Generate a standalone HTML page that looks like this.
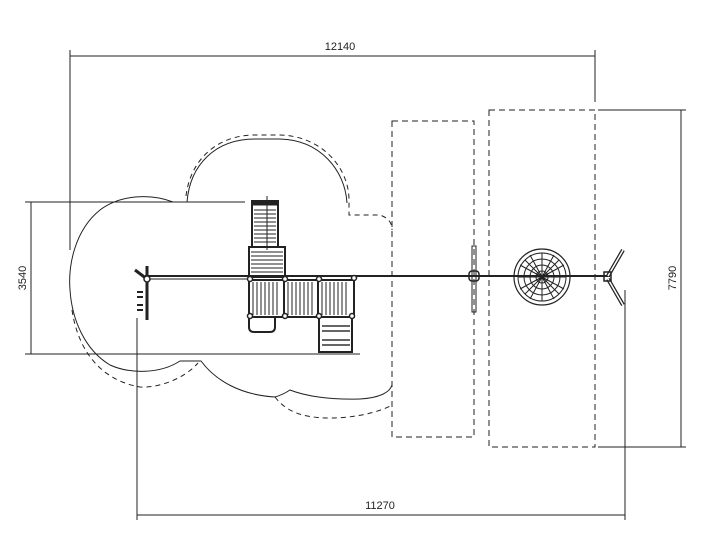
<!DOCTYPE html>
<html><head><style>body{margin:0;background:#fff}svg{display:block}</style></head><body>
<svg width="712" height="548" viewBox="0 0 712 548" xmlns="http://www.w3.org/2000/svg" font-family="Liberation Sans, sans-serif">
<g stroke="#222" stroke-width="1" fill="none">
<!-- dimensions -->
<line x1="70" y1="50" x2="70" y2="250"/><line x1="595" y1="50" x2="595" y2="102"/>
<line x1="70" y1="56" x2="595" y2="56"/>
<line x1="598" y1="110" x2="686" y2="110"/><line x1="598" y1="447" x2="686" y2="447"/>
<line x1="681" y1="110" x2="681" y2="447"/>
<line x1="25" y1="202" x2="245" y2="202"/><line x1="25" y1="354" x2="360" y2="354"/>
<line x1="31" y1="202" x2="31" y2="354"/>
<line x1="137" y1="318" x2="137" y2="520"/><line x1="625" y1="290" x2="625" y2="520"/>
<line x1="137" y1="515" x2="625" y2="515"/>
<!-- dashed rects -->
<rect x="392" y="121" width="82" height="316" stroke-dasharray="6,4"/>
<rect x="489" y="110" width="106" height="337" stroke-dasharray="6,4"/>
<!-- solid safety outline -->
<path d="M187,202 L173,202 C150,193 120,195 100,210 C75,230 68,265 70,290 C72,320 85,350 110,365 C130,374 160,374 180,361 L201,361 C215,380 240,395 275,397 C282,395 287,392 290,390 C305,396 330,400 360,399 C380,398 390,392 392,385"/>
<path d="M187,202 C190,165 215,139 255,139 L280,139 C320,140 345,170 347,203"/>
<!-- dashed safety outline -->
<path stroke-dasharray="5,4" d="M186,196 C190,162 215,135 255,135 L280,135 C322,136 349,168 349,200 L349,215 L380,215 C388,218 392,222 392,230"/>
<path stroke-dasharray="5,4" d="M72,310 C78,350 100,380 140,387 C160,388 185,378 198,363"/>
<path stroke-dasharray="5,4" d="M275,397 C285,410 300,418 330,418 C355,418 380,412 392,405"/>
<!-- beam -->
<line x1="145" y1="276" x2="610" y2="276" stroke-width="2"/>
<line x1="145" y1="279" x2="250" y2="279"/>
<!-- left swing end -->
<line x1="147" y1="266" x2="147" y2="320" stroke-width="3"/>
<line x1="135" y1="270" x2="147" y2="279" stroke-width="3"/>
<circle cx="147" cy="279" r="3" fill="#fff" stroke-width="1.5"/>
<path d="M137,292 h6 M137,297 h6 M137,305 h6 M137,310 h6" stroke-width="2"/>
<!-- slide -->
<rect x="252" y="201" width="26" height="46" stroke-width="2"/>
<rect x="252" y="201" width="26" height="4" fill="#222"/>
<path d="M254,210h22M254,214h22M254,218h22M254,222h22M254,226h22M254,230h22M254,234h22M254,238h22M254,242h22"/>
<line x1="267" y1="196" x2="267" y2="250"/>
<!-- upper deck -->
<rect x="249" y="247" width="36" height="30" stroke-width="2"/>
<path d="M251,252h32M251,256h32M251,260h32M251,264h32M251,268h32M251,272h32"/>
<!-- main decks -->
<rect x="249" y="280" width="35" height="37" stroke-width="2"/>
<rect x="284" y="280" width="34" height="37" stroke-width="2"/>
<rect x="318" y="280" width="36" height="37" stroke-width="2"/>
<path d="M253,282v33M257,282v33M261,282v33M265,282v33M269,282v33M273,282v33M277,282v33M288,282v33M292,282v33M296,282v33M300,282v33M304,282v33M308,282v33M312,282v33M322,282v33M326,282v33M330,282v33M334,282v33M338,282v33M342,282v33M346,282v33"/>
<path d="M249,317 v10 q0,5 5,5 h16 q5,0 5,-5 v-10" stroke-width="2"/>
<rect x="319" y="317" width="33" height="35" stroke-width="2"/>
<path d="M322,326h28M322,331h28M322,340h28M322,345h28" stroke="#666" stroke-width="2"/>
<g fill="#fff" stroke-width="1.5"><circle cx="250" cy="279" r="2.5"/><circle cx="285" cy="279" r="2.5"/><circle cx="319" cy="279" r="2.5"/><circle cx="354" cy="278" r="2.5"/><circle cx="250" cy="316" r="2.5"/><circle cx="285" cy="316" r="2.5"/><circle cx="319" cy="316" r="2.5"/><circle cx="352" cy="316" r="2.5"/></g>
<!-- cross post -->
<rect x="472" y="246" width="4" height="66"/>
<rect x="469" y="271" width="10" height="10" rx="3" stroke-width="1.5"/>
<!-- spider swing -->
<circle cx="542" cy="277" r="28" stroke-width="1.2"/>
<circle cx="542" cy="277" r="24"/><circle cx="542" cy="277" r="18"/><circle cx="542" cy="277" r="12"/><circle cx="542" cy="277" r="6"/>
<path d="M518,277h48M542,253v48M525,260l34,34M559,260l-34,34M530,255l24,44M554,255l-24,44M520,265l44,24M564,265l-44,24"/>
<!-- A-frame end -->
<path d="M608,276 L623,250 M608,279 L623,305" stroke-width="4"/>
<path d="M608,276 L623,250 M608,279 L623,305" stroke="#fff" stroke-width="1.5"/>
<rect x="604" y="272" width="7" height="9" stroke-width="1.5"/>
</g>
<g fill="#222" font-size="11">
<text x="340" y="50" text-anchor="middle">12140</text>
<text x="380" y="509" text-anchor="middle">11270</text>
<text transform="translate(676,278) rotate(-90)" text-anchor="middle">7790</text>
<text transform="translate(26,278) rotate(-90)" text-anchor="middle">3540</text>
</g>
</svg>
</body></html>
